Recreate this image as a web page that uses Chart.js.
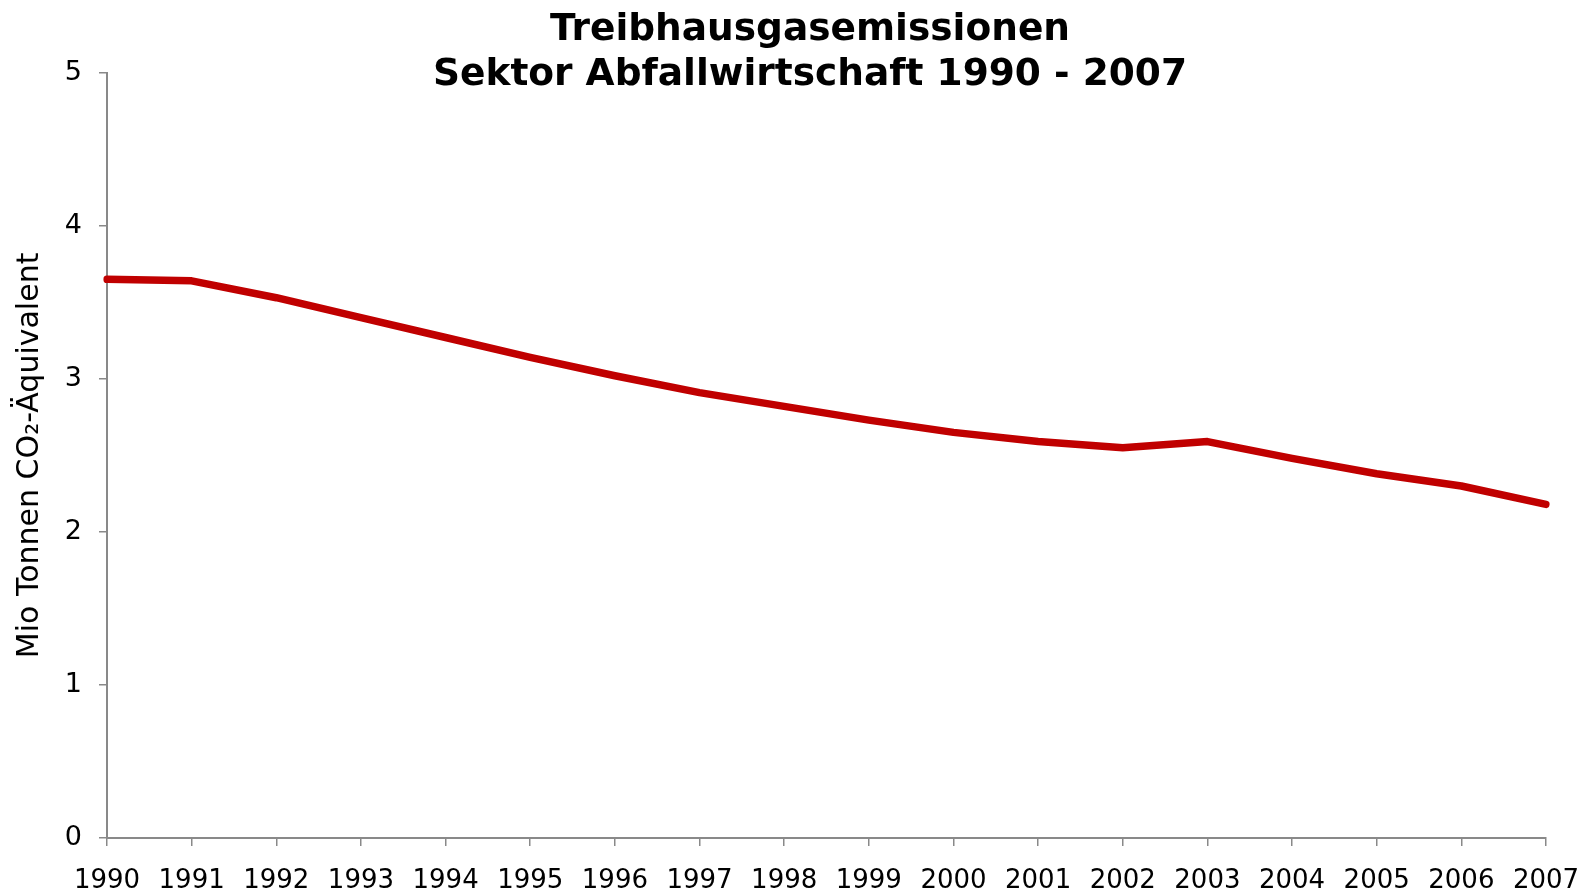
<!DOCTYPE html>
<html>
<head>
<meta charset="utf-8">
<script src="https://cdn.jsdelivr.net/npm/chart.js@4"></script>
<style>
  html, body { margin: 0; padding: 0; background: #fff; }
  #wrap { width: 1583px; height: 890px; position: relative; }
</style>
</head>
<body>
<div id="wrap"><canvas id="chart"></canvas></div>
<script>
// ---- data ----
const years = ["1990","1991","1992","1993","1994","1995","1996","1997","1998",
               "1999","2000","2001","2002","2003","2004","2005","2006","2007"];
const emissions = [3.65, 3.64, 3.53, 3.40, 3.27, 3.14, 3.02, 2.91, 2.82,
                   2.73, 2.65, 2.59, 2.55, 2.59, 2.48, 2.38, 2.30, 2.18];
const yTicks = [0, 1, 2, 3, 4, 5];
const titleLines = ["Treibhausgasemissionen", "Sektor Abfallwirtschaft 1990 - 2007"];
const yTitle = "Mio Tonnen CO\u2082-\u00C4quivalent";

const FONT = "'DejaVu Sans', Verdana, sans-serif";
const AXIS_GREY = "#898989";

// title is centred a bit right of the canvas middle in the original
const shiftTitle = {
  id: "shiftTitle",
  afterLayout(chart) {
    const t = chart.titleBlock;
    if (!t) return;
    t.left = 37;
    t.right = chart.width;
  }
};

new Chart(document.getElementById("chart"), {
  type: "line",
  data: {
    labels: years,
    datasets: [{
      data: emissions,
      borderColor: "#c00000",
      borderWidth: 7.5,
      borderCapStyle: "round",
      borderJoinStyle: "round",
      pointRadius: 0,
      pointHoverRadius: 0,
      tension: 0,
      fill: false
    }]
  },
  plugins: [shiftTitle],
  options: {
    responsive: true,
    maintainAspectRatio: false,
    animation: false,
    layout: { padding: { left: 0, right: 37, top: 0, bottom: 0 } },
    plugins: {
      legend: { display: false },
      tooltip: { enabled: false },
      title: {
        display: true,
        text: titleLines,
        color: "#000",
        font: { family: FONT, size: 37.5, weight: "bold", lineHeight: 1.2 },
        padding: { top: 8, bottom: -25.3 }
      }
    },
    scales: {
      x: {
        type: "category",
        offset: false,
        grid: { drawOnChartArea: false, drawTicks: true, tickLength: 8, color: AXIS_GREY, lineWidth: 1.5 },
        border: { display: true, color: AXIS_GREY, width: 2 },
        ticks: {
          autoSkip: false, maxRotation: 0, minRotation: 0,
          padding: 20, color: "#000",
          font: { family: FONT, size: 26 }
        },
        afterFit(axis) {
          axis.height = 52;
          axis.paddingLeft = 0;
          axis.paddingRight = 30;
        }
      },
      y: {
        min: 0, max: 5,
        afterBuildTicks(axis) { axis.ticks = yTicks.map(v => ({ value: v })); },
        grid: { drawOnChartArea: false, drawTicks: true, tickLength: 8, color: AXIS_GREY, lineWidth: 1.5 },
        border: { display: true, color: AXIS_GREY, width: 2 },
        ticks: {
          padding: 17, color: "#000",
          font: { family: FONT, size: 27 }
        },
        title: {
          display: true,
          text: yTitle,
          color: "#000",
          font: { family: FONT, size: 30, lineHeight: 1.2 },
          padding: { top: 12, bottom: 0 }
        },
        afterFit(axis) { axis.width = 107; }
      }
    }
  }
});
</script>
</body>
</html>
